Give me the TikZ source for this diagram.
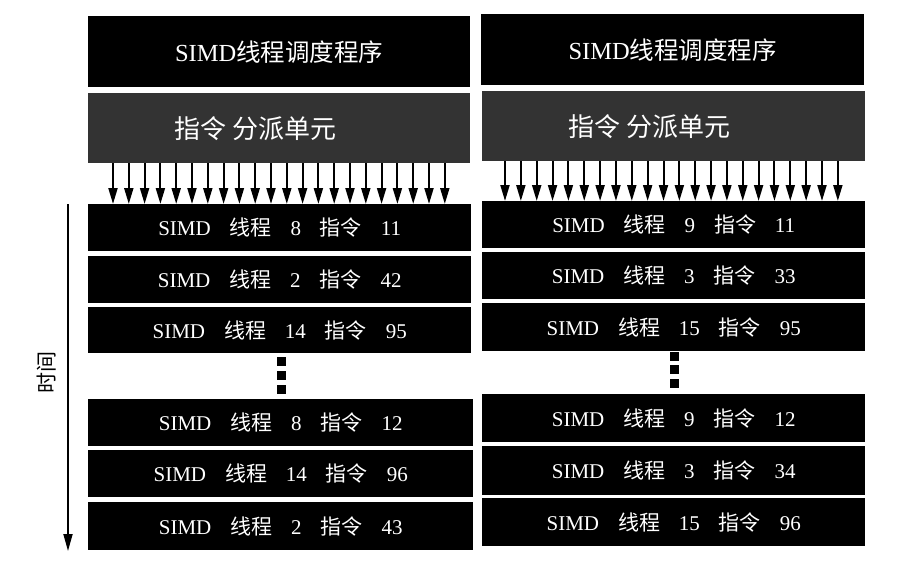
\documentclass[tikz,border=0pt]{standalone}
\usepackage{fontspec}
\setmainfont{Liberation Serif}
\newfontfamily\cjk{Noto Sans CJK SC}
\usetikzlibrary{arrows.meta}
\newcommand\rowtxt[2]{SIMD\hspace{0.9em}{\cjk 线程}\hspace{0.9em}#1\hspace{0.9em}{\cjk 指令}\hspace{0.9em}#2}
\begin{document}
\begin{tikzpicture}[x=1pt,y=-1pt,
  blk/.style={fill=black, text=white, inner sep=0pt, anchor=north west, font=\fontsize{21}{24}\selectfont},
  sched/.style={blk, minimum width=382pt, minimum height=71pt, font=\fontsize{24.5}{27}\selectfont},
  disp/.style={blk, fill=black!80, minimum width=382pt, minimum height=70pt},
  disptext/.style={text=white, inner sep=0pt, font=\fontsize{26}{28}\selectfont\cjk},
  rowbox/.style={blk, minimum width=383pt, minimum height=47pt},
  arr/.style={line width=2pt, -{Triangle[width=9pt,length=16pt]}},
  dotsq/.style={fill=black, minimum size=9pt, inner sep=0pt},
  timelbl/.style={inner sep=0pt, rotate=90, font=\fontsize{21}{23}\selectfont\cjk}]
\fill[white] (0,0) rectangle (900,568);
\useasboundingbox (0,0) rectangle (900,568);
% left column
\node[sched] (sch1) at (88,16) {SIMD{\cjk 线程调度程序}};
\node[disp] (disp1) at (88,93) {};
\node[disptext] (dt1) at ([xshift=-24pt]disp1.center) {指令 分派单元};
\node[rowbox] (r11) at (88,204) {\rowtxt{8}{11}};
\node[rowbox] (r12) at (88,256) {\rowtxt{2}{42}};
\node[rowbox, minimum height=46pt] (r13) at (88,307) {\rowtxt{14}{95}};
\node[rowbox, minimum width=385pt] (r14) at (88,399) {\rowtxt{8}{12}};
\node[rowbox, minimum width=385pt] (r15) at (88,450) {\rowtxt{14}{96}};
\node[rowbox, minimum width=385pt, minimum height=48pt] (r16) at (88,502) {\rowtxt{2}{43}};
\foreach \i in {0,...,21}{
  \pgfmathsetmacro\dx{25+15.8*\i}
  \draw[arr] ([xshift=\dx pt]disp1.south west) -- ([xshift=\dx pt]r11.north west);
}
\node[dotsq] (d11) at (281,361) {};
\node[dotsq] (d12) at (281,375) {};
\node[dotsq] (d13) at (281,389) {};
% right column
\node[sched, minimum width=383pt] (sch2) at (481,14) {SIMD{\cjk 线程调度程序}};
\node[disp, minimum width=383pt] (disp2) at (482,91) {};
\node[disptext] (dt2) at ([xshift=-24pt]disp2.center) {指令 分派单元};
\node[rowbox] (r21) at (482,201) {\rowtxt{9}{11}};
\node[rowbox] (r22) at (482,252) {\rowtxt{3}{33}};
\node[rowbox, minimum height=48pt] (r23) at (482,303) {\rowtxt{15}{95}};
\node[rowbox, minimum height=48pt] (r24) at (482,394) {\rowtxt{9}{12}};
\node[rowbox, minimum height=49pt] (r25) at (482,446) {\rowtxt{3}{34}};
\node[rowbox, minimum height=48pt] (r26) at (482,498) {\rowtxt{15}{96}};
\foreach \i in {0,...,21}{
  \pgfmathsetmacro\dx{23+15.85*\i}
  \draw[arr] ([xshift=\dx pt]disp2.south west) -- ([xshift=\dx pt]r21.north west);
}
\node[dotsq] (d21) at (674,356) {};
\node[dotsq] (d22) at (674,369) {};
\node[dotsq] (d23) at (674,383) {};
% time axis
\coordinate (t0) at (68,204);
\coordinate (t1) at (68,551);
\draw[line width=1.8pt, -{Triangle[width=9pt,length=17pt]}] (t0) -- (t1);
\node[timelbl] (tl) at (47,372) {时间};
\end{tikzpicture}
\end{document}
